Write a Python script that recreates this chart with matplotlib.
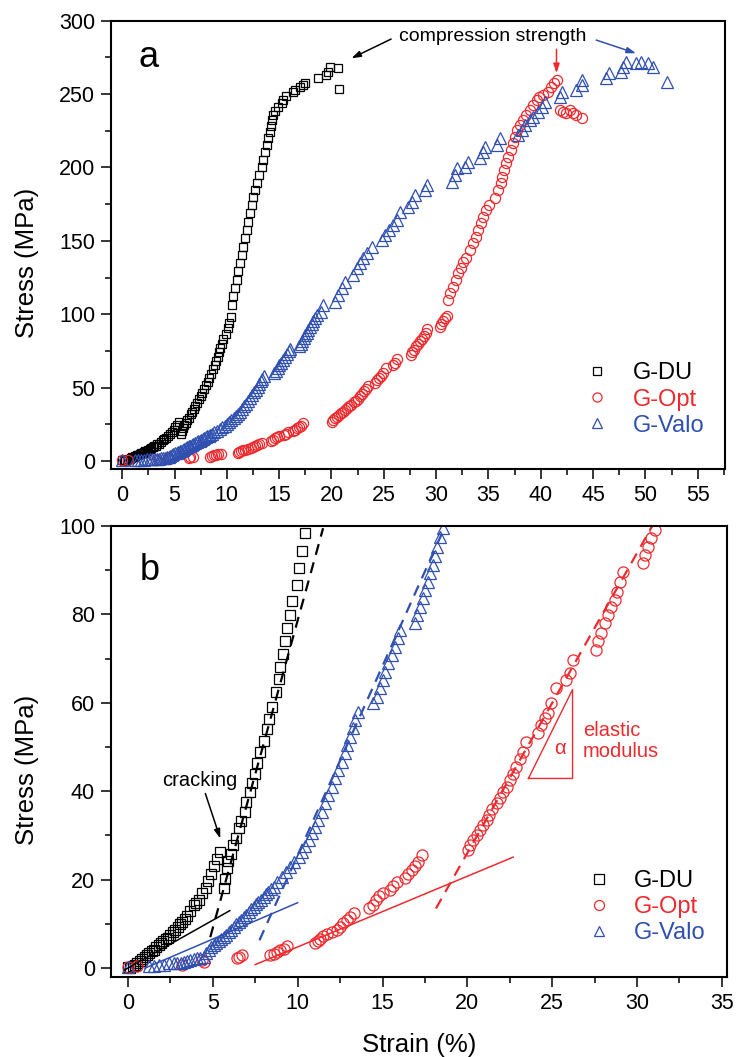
import matplotlib
matplotlib.use("Agg")
import matplotlib.pyplot as plt
from matplotlib.ticker import MultipleLocator

plt.rcParams['font.family'] = ['Liberation Sans', 'DejaVu Sans']

RED = '#ee2a2e'
BLUE = '#2f50b0'

# ---- data (strain %, stress MPa) ----
du_strain = [0.0, 0.14, 0.30, 0.42, 0.56, 0.70, 0.84, 0.98, 1.12, 1.25, 1.40, 1.53,
             1.67, 1.81, 1.95, 2.09, 2.22, 2.36, 2.50, 2.64, 2.78, 2.92, 3.06,
             3.20, 3.34, 3.48, 3.67, 3.89, 4.03, 4.17, 4.39, 4.59, 4.73, 4.92, 5.06,
             5.23, 5.42,
             5.64, 5.70, 5.84, 5.92, 6.06, 6.20, 6.39, 6.53, 6.67, 6.87, 6.95, 7.17,
             7.31, 7.50, 7.59, 7.78, 8.00, 8.20, 8.34, 8.48, 8.70, 8.89, 8.98, 9.12,
             9.25, 9.39, 9.53, 9.67, 9.95, 10.09, 10.23, 10.42, 10.50, 10.61, 10.77,
             10.93, 11.09, 11.25, 11.41, 11.57, 11.73, 11.89, 12.05, 12.20, 12.36,
             12.52, 12.68, 12.84, 13.10, 13.32, 13.48, 13.64, 13.80, 13.96, 14.10,
             14.20, 14.34, 14.44, 14.60, 14.92, 15.23, 15.40, 15.70, 16.28, 16.50,
             16.98, 17.24, 17.46, 18.73, 19.50, 19.70, 19.85, 20.64, 20.74]
du_stress = [0.3, 0.0, 0.5, 0.8, 1.2, 1.6, 2.0, 2.5, 3.0, 3.4, 3.8, 4.2,
             4.8, 5.3, 5.7, 6.1, 6.5, 6.9, 7.5, 8.1, 8.7, 9.3, 9.9,
             10.5, 11.2, 11.8, 13.0, 14.2, 14.8, 15.5, 17.0, 18.2, 19.8, 21.4, 23.1,
             24.7, 26.3,
             18.2, 20.2, 22.6, 24.3, 25.9, 27.9, 29.5, 31.7, 33.2, 35.2, 37.6, 39.8,
             41.9, 44.0, 46.5, 48.9, 51.4, 54.1, 56.4, 59.0, 62.4, 65.5, 68.1, 71.0,
             73.9, 77.0, 79.8, 83.0, 86.7, 90.5, 94.3, 98.4, 106.4, 112.1, 117.7,
             123.4, 129.1, 134.8, 140.4, 146.1, 151.8, 157.5, 163.1, 168.8, 174.4,
             180.1, 184.6, 189.2, 194.9, 200.6, 205.1, 210.8, 215.4, 219.9, 224.4,
             228.3, 232.4, 235.8, 238.8, 241.1, 243.8, 246.1, 248.8, 251.1, 252.9,
             254.5, 256.3, 257.8, 260.8, 263.1, 265.3, 268.7, 268.0, 253.5]

opt_strain = [0.0, 0.56, 3.19, 4.36, 4.46, 6.42, 6.52, 6.72, 8.38, 8.58, 8.78, 8.97,
              9.17, 9.40, 11.03, 11.17, 11.32, 11.52, 11.75, 12.01, 12.30, 12.50,
              12.70, 12.89, 13.09, 13.32, 14.22, 14.42, 14.62, 14.81, 15.01, 15.44,
              15.64, 15.84, 16.32, 16.52, 16.72, 16.91, 17.11, 17.30, 20.05, 20.15,
              20.34, 20.54, 20.74, 20.93, 21.13, 21.28, 21.48, 21.72, 21.91, 22.11,
              22.31, 22.50, 22.70, 22.89, 23.09, 23.28, 23.48, 24.17, 24.36, 24.56,
              24.75, 24.95, 25.25, 25.84, 26.03, 26.23, 27.60, 27.70, 27.89, 28.09,
              28.28, 28.48, 28.68, 28.81, 29.01, 29.17, 30.34, 30.44, 30.64, 30.84,
              31.03, 31.15, 31.37, 31.63, 31.88, 32.10, 32.33, 32.58, 32.90, 33.22,
              33.53, 33.79, 34.01, 34.24, 34.49, 34.81, 35.06, 35.61, 35.92, 36.15,
              36.34, 36.47, 36.66, 36.88, 37.11, 37.30, 37.52, 37.68, 37.99, 38.31,
              38.63, 38.95, 39.27, 39.59, 39.84, 40.22, 40.70, 41.02, 41.24, 41.56,
              41.82, 42.13, 42.45, 42.77, 43.09, 43.41, 43.89]
opt_stress = [0.3, 0.5, 0.7, 1.8, 1.3, 2.2, 2.6, 2.9, 2.9, 3.3, 3.7, 4.1,
              4.4, 5.0, 5.6, 6.2, 6.7, 7.2, 7.7, 8.2, 8.7, 9.3,
              10.1, 10.9, 11.6, 12.4, 13.5, 14.3, 15.4, 16.3, 16.9, 17.6,
              18.6, 19.5, 20.3, 21.3, 22.2, 23.1, 24.0, 25.6, 26.7, 27.8,
              29.0, 30.1, 31.2, 32.4, 33.5, 34.6, 36.1, 37.3, 38.4, 39.9,
              41.0, 42.5, 44.0, 45.5, 47.4, 48.9, 51.2, 53.1, 55.0, 56.5,
              57.7, 59.9, 63.3, 65.2, 66.7, 69.7, 71.9, 73.9, 75.7, 78.0,
              79.9, 81.7, 83.3, 85.1, 87.4, 89.7, 91.6, 93.4, 95.3, 97.2,
              99.1, 109.7, 114.3, 118.8, 123.3, 127.9, 131.3, 135.8, 138.1,
              143.8, 148.3, 152.8, 157.4, 162.0, 166.5, 171.0, 174.4, 179.0, 184.6,
              189.2, 193.8, 198.3, 202.8, 207.4, 211.9, 216.5, 221.0, 225.5, 228.9,
              232.3, 235.7, 239.1, 242.6, 246.0, 248.2, 249.4, 251.6, 255.0, 257.3,
              259.6, 239.1, 238.0, 236.9, 239.1, 236.9, 235.7, 233.5]

valo_strain = [0.0, 1.22, 1.52, 1.81, 2.10, 2.40, 2.70, 2.89, 3.10, 3.28, 3.48, 3.68,
               3.88, 4.07, 4.27, 4.46, 4.60, 4.75, 4.90, 5.05, 5.20, 5.34, 5.49,
               5.64, 5.78, 5.93, 6.08, 6.22, 6.37, 6.52, 6.66,
               6.81, 6.96, 7.11, 7.25, 7.40, 7.55, 7.69, 7.84, 7.99, 8.14, 8.28,
               8.43, 8.58, 8.81, 9.07, 9.32, 9.56,
               9.79, 10.05, 10.25, 10.44, 10.64, 10.84, 11.03, 11.22, 11.42, 11.62,
               11.81, 12.01, 12.21, 12.40, 12.60, 12.79, 12.93, 13.09, 13.25, 13.38,
               13.58, 14.46, 14.66, 14.85, 15.01, 15.15, 15.34, 15.54, 15.74, 15.93,
               16.03, 16.91, 17.05, 17.21, 17.36, 17.50, 17.66, 17.79, 17.95, 18.09,
               18.22, 18.38, 18.58, 19.00, 19.23, 20.32, 20.64, 20.96, 21.28, 22.07,
               22.40, 22.71, 23.03, 23.35, 23.83, 24.78, 25.10, 25.51, 25.90, 26.22,
               26.53, 27.33, 27.65, 27.97, 28.92, 29.08, 31.47, 31.79, 31.95, 32.74,
               33.06, 34.17, 34.49, 34.65, 35.77, 36.08, 37.83, 38.16, 38.47, 38.95,
               39.27, 39.74, 40.07, 40.38, 41.82, 41.98, 43.41, 43.89, 43.98, 46.21,
               46.53, 47.70, 47.86, 48.12, 49.14, 49.62, 50.25, 50.73, 52.07]
valo_stress = [0.3, 0.5, 0.5, 0.6, 0.8, 1.2, 1.1, 1.1, 1.2, 1.4, 1.6, 1.8,
               2.0, 2.2, 2.4, 2.6, 3.4, 4.2, 4.7, 5.2, 5.7, 6.2, 6.6,
               7.1, 7.6, 8.2, 8.7, 9.3, 9.9, 10.5, 11.0,
               11.6, 12.1, 12.7, 13.3, 13.9, 14.4, 15.0, 15.5, 16.1, 16.7, 17.3,
               17.8, 18.4, 19.5, 20.7, 21.8, 22.9,
               24.0, 25.2, 26.3, 27.6, 29.0, 30.5, 32.0, 33.5, 35.4, 37.3,
               39.1, 41.0, 42.9, 44.8, 46.7, 48.6, 50.5, 52.3, 54.2, 56.1,
               58.0, 59.9, 61.4, 63.3, 65.2, 67.0, 68.9, 70.8, 72.7, 74.6,
               76.5, 78.0, 79.9, 81.7, 83.6, 85.5, 87.4, 89.3, 91.2, 93.2,
               95.3, 97.6, 99.5, 101.7, 106.3, 108.5, 113.1, 117.6, 122.2, 126.7,
               131.3, 134.7, 138.1, 141.5, 146.0, 150.6, 154.0, 157.4, 160.8, 164.2,
               169.9, 173.3, 176.7, 181.2, 184.6, 188.1, 190.3, 194.9, 199.4, 200.5,
               203.9, 206.2, 210.7, 214.1, 215.3, 219.9, 222.1, 225.5, 228.9, 232.3,
               234.6, 238.0, 241.4, 244.8, 248.2, 251.6, 252.8, 256.2, 259.6, 260.7,
               264.1, 265.3, 268.7, 272.1, 270.9, 272.1, 270.9, 268.7, 258.4]

# fitted lines in panel b (end points)
du_solid_x, du_solid_y = [-0.2, 6.0], [-0.4, 13.0]
du_dash_x, du_dash_y = [4.85, 11.5], [7.0, 99.5]
valo_solid_x, valo_solid_y = [1.0, 10.0], [0.0, 14.8]
valo_dash_x, valo_dash_y = [7.75, 18.7], [6.3, 100.0]
opt_solid_x, opt_solid_y = [7.5, 22.7], [0.8, 25.1]
opt_dash_x, opt_dash_y = [18.15, 30.9], [13.5, 100.0]
modulus_tri_x = [23.6, 26.2, 26.2, 23.6]
modulus_tri_y = [42.9, 63.0, 42.9, 42.9]

labels = ['G-DU', 'G-Opt', 'G-Valo']
series = [(du_strain, du_stress, 's', 'black'),
          (opt_strain, opt_stress, 'o', RED),
          (valo_strain, valo_stress, '^', BLUE)]
sizes_a = [6.3, 7.3, 8.0]
sizes_b = [7.4, 8.0, 8.4]

fig = plt.figure(figsize=(7.37, 10.57), dpi=100)
ax1 = fig.add_axes([0.1506, 0.5563, 0.8331, 0.4241])
ax2 = fig.add_axes([0.1506, 0.0757, 0.8358, 0.4267])


def style_axes(ax):
    for sp in ax.spines.values():
        sp.set_linewidth(1.5)
    ax.tick_params(which='both', direction='out', top=False, right=False,
                   labelsize=15.5, width=1.1, pad=4.5)
    ax.tick_params(which='major', length=7)
    ax.tick_params(which='minor', length=4)


for ax, sizes in ((ax1, sizes_a), (ax2, sizes_b)):
    handles = []
    for (x, y, m, c), ms, lab in zip(series, sizes, labels):
        h, = ax.plot(x, y, ls='none', marker=m, ms=ms, mfc='none', mec=c,
                     mew=0.9, label=lab)
        handles.append(h)
    style_axes(ax)
    ax.set_ylabel('Stress (MPa)', fontsize=18.5)
    ax.yaxis.set_label_coords(-0.117, 0.46)
    leg = ax.legend(handles=handles, loc='center left',
                    bbox_to_anchor=(0.773, 0.155), frameon=False, fontsize=17,
                    handlelength=1.0, handletextpad=1.0, labelspacing=0.18,
                    borderpad=0, borderaxespad=0, numpoints=1, markerscale=0.9)
    for t, (_, _, _, c) in zip(leg.get_texts(), series):
        t.set_color(c)

# ---- panel a ----
ax1.set_xlim(-1.07, 57.6)
ax1.set_ylim(-5.5, 300)
ax1.xaxis.set_major_locator(MultipleLocator(5))
ax1.xaxis.set_minor_locator(MultipleLocator(2.5))
ax1.yaxis.set_major_locator(MultipleLocator(50))
ax1.yaxis.set_minor_locator(MultipleLocator(25))
ax1.text(0.044, 0.897, 'a', transform=ax1.transAxes, fontsize=26, va='baseline')
ax1.text(35.4, 289, 'compression strength', fontsize=14, ha='center', va='center')
arrow_kw = dict(arrowstyle='-|>,head_length=0.55,head_width=0.18', lw=1.1,
                shrinkA=0, shrinkB=0)
ax1.annotate('', xy=(21.9, 274.4), xytext=(25.7, 287.5),
             arrowprops=dict(color='black', **arrow_kw))
ax1.annotate('', xy=(41.5, 264.2), xytext=(41.5, 280.5),
             arrowprops=dict(color=RED, **arrow_kw))
ax1.annotate('', xy=(49.1, 277.8), xytext=(45.3, 286.8),
             arrowprops=dict(color=BLUE, **arrow_kw))

# ---- panel b ----
ax2.set_xlim(-1.0, 35.3)
ax2.set_ylim(-2, 100)
ax2.xaxis.set_major_locator(MultipleLocator(5))
ax2.xaxis.set_minor_locator(MultipleLocator(2.5))
ax2.yaxis.set_major_locator(MultipleLocator(20))
ax2.yaxis.set_minor_locator(MultipleLocator(10))
ax2.set_xlabel('Strain (%)', fontsize=18.5)
ax2.xaxis.set_label_coords(0.5, -0.125)
ax2.text(0.047, 0.88, 'b', transform=ax2.transAxes, fontsize=26, va='baseline')

dash = (0, (5, 3.5))
ax2.plot(du_solid_x, du_solid_y, color='black', lw=1.1)
ax2.plot(du_dash_x, du_dash_y, color='black', lw=1.6, ls=dash)
ax2.plot(valo_solid_x, valo_solid_y, color=BLUE, lw=1.1)
ax2.plot(valo_dash_x, valo_dash_y, color=BLUE, lw=1.6, ls=dash)
ax2.plot(opt_solid_x, opt_solid_y, color=RED, lw=1.1)
ax2.plot(opt_dash_x, opt_dash_y, color=RED, lw=1.6, ls=dash)
ax2.plot(modulus_tri_x, modulus_tri_y, color=RED, lw=1.0)

ax2.text(4.25, 42.5, 'cracking', fontsize=14.5, ha='center', va='center')
ax2.annotate('', xy=(5.44, 29.3), xytext=(4.56, 39.5),
             arrowprops=dict(color='black', **arrow_kw))
ax2.text(25.44, 49.7, 'α', color=RED, fontsize=14.5, ha='center', va='center')
ax2.text(26.81, 51.4, 'elastic\nmodulus', color=RED, fontsize=14.5,
         ha='left', va='center', linespacing=1.1)

fig.savefig('out.png', dpi=100)
